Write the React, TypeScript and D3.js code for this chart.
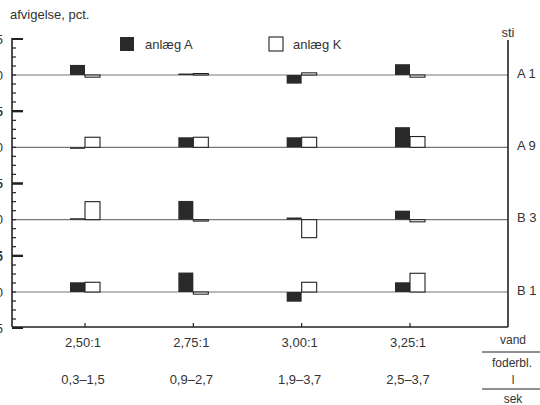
import React, { useEffect, useRef } from 'react';
import * as d3 from 'd3';

// ratio vand : foderblanding, og flow (l/sek)
const categories = ['2,50:1', '2,75:1', '3,00:1', '3,25:1'];
const flowLabels = ['0,3–1,5', '0,9–2,7', '1,9–3,7', '2,5–3,7'];
const rows = ['A 1', 'A 9', 'B 3', 'B 1'];

// afvigelse, pct. per sti (rows) og ratio (columns)
const anlaegA = [
    [1.4, 0.2, -1.2, 1.5],
    [-0.2, 1.4, 1.4, 2.8],
    [0.2, 2.6, 0.3, 1.25],
    [1.35, 2.7, -1.35, 1.35],
];
const anlaegK = [
    [-0.3, 0.2, 0.3, -0.3],
    [1.4, 1.4, 1.4, 1.5],
    [2.5, -0.2, -2.5, -0.3],
    [1.35, -0.3, 1.35, 2.6],
];

const App = () => {
    const chartRef = useRef<SVGSVGElement>(null);

    useEffect(() => {
        const svg = d3.select(chartRef.current);
        svg.selectAll('*').remove();

        const font = '"Liberation Sans", Arial, sans-serif';
        const ink = '#222';
        const textInk = '#333';
        const left = 12;
        const right = 508;
        const bottom = 327;

        // Scales
        const x = d3.scalePoint<string>().domain(categories).range([85, 410]);
        const row = d3.scalePoint<string>().domain(rows).range([75, 292]);
        const v = d3.scaleLinear().domain([-5, 5]).range([36, -36]);
        const barW = 15;

        // Baselines per sti
        svg.selectAll('.base')
            .data(rows)
            .enter()
            .append('line')
            .attr('x1', left)
            .attr('x2', right)
            .attr('y1', d => row(d)!)
            .attr('y2', d => row(d)!)
            .attr('stroke', '#777')
            .attr('stroke-width', 1.2);

        // Left axis with ticks
        const top = row(rows[0])! + v(5);
        svg.append('line')
            .attr('x1', left).attr('x2', left)
            .attr('y1', top - 1).attr('y2', bottom)
            .attr('stroke', ink).attr('stroke-width', 1.6);

        const tickVals = d3.range(-5, 5.01, 1.25);
        rows.forEach(r => {
            const g = svg.append('g');
            g.selectAll('line')
                .data(tickVals)
                .enter()
                .append('line')
                .attr('x1', left)
                .attr('x2', d => (Math.abs(d) === 5 ? left + 11 : left + 4))
                .attr('y1', d => row(r)! + v(d))
                .attr('y2', d => row(r)! + v(d))
                .attr('stroke', ink)
                .attr('stroke-width', d => (Math.abs(d) === 5 ? 2 : 1.2));
            // labels are cropped at the left edge in the original scan
            g.selectAll('text')
                .data([5, 0, -5])
                .enter()
                .append('text')
                .attr('x', 3)
                .attr('y', d => row(r)! + v(d))
                .attr('dy', '0.35em')
                .attr('text-anchor', 'end')
                .attr('font-family', font)
                .attr('font-size', 13)
                .attr('fill', textInk)
                .text(d => (d === 0 ? '0' : '5'));
        });

        // Right axis
        svg.append('line')
            .attr('x1', right).attr('x2', right)
            .attr('y1', 40).attr('y2', bottom)
            .attr('stroke', ink).attr('stroke-width', 1.6);

        // Bottom axis
        svg.append('line')
            .attr('x1', left).attr('x2', right)
            .attr('y1', bottom).attr('y2', bottom)
            .attr('stroke', ink).attr('stroke-width', 1.6);
        svg.selectAll('.xtick')
            .data(categories)
            .enter()
            .append('line')
            .attr('x1', d => x(d)!).attr('x2', d => x(d)!)
            .attr('y1', bottom).attr('y2', bottom - 4)
            .attr('stroke', ink).attr('stroke-width', 1.2);

        // Bars
        rows.forEach((r, ri) => {
            const y0 = row(r)!;
            categories.forEach((c, ci) => {
                const a = anlaegA[ri][ci];
                const k = anlaegK[ri][ci];
                svg.append('rect')
                    .attr('x', x(c)! - barW)
                    .attr('y', y0 + Math.min(v(a), 0))
                    .attr('width', barW)
                    .attr('height', Math.max(Math.abs(v(a)), 1.5))
                    .attr('fill', '#2a2a2a');
                svg.append('rect')
                    .attr('x', x(c)!)
                    .attr('y', y0 + Math.min(v(k), 0))
                    .attr('width', barW)
                    .attr('height', Math.abs(v(k)))
                    .attr('fill', '#fff')
                    .attr('stroke', ink)
                    .attr('stroke-width', 1.1);
            });
        });

        // Row labels
        svg.selectAll('.rowlab')
            .data(rows)
            .enter()
            .append('text')
            .attr('x', 517)
            .attr('y', d => row(d)! - 2)
            .attr('dy', '0.35em')
            .attr('font-family', font)
            .attr('font-size', 13)
            .attr('fill', textInk)
            .text(d => d);

        const text = (tx: number, ty: number, s: string, anchor = 'middle', size = 13) =>
            svg.append('text')
                .attr('x', tx).attr('y', ty)
                .attr('text-anchor', anchor)
                .attr('font-family', font)
                .attr('font-size', size)
                .attr('fill', textInk)
                .text(s);

        text(10, 19, 'afvigelse, pct.', 'start');
        text(508, 37, 'sti');

        // Legend
        svg.append('rect').attr('x', 120).attr('y', 37).attr('width', 14).attr('height', 14).attr('fill', '#2a2a2a');
        text(145, 49, 'anlæg A', 'start');
        svg.append('rect').attr('x', 269).attr('y', 37).attr('width', 14).attr('height', 14)
            .attr('fill', '#fff').attr('stroke', ink).attr('stroke-width', 1.1);
        text(293, 49, 'anlæg K', 'start');

        // Category labels
        svg.selectAll('.cat')
            .data(categories)
            .enter()
            .append('text')
            .attr('x', d => x(d)! - 2)
            .attr('y', 347)
            .attr('text-anchor', 'middle')
            .attr('font-family', font)
            .attr('font-size', 13)
            .attr('fill', textInk)
            .text(d => d);
        svg.selectAll('.flow')
            .data(flowLabels)
            .enter()
            .append('text')
            .attr('x', (d, i) => x(categories[i])! - 2)
            .attr('y', 384)
            .attr('text-anchor', 'middle')
            .attr('font-family', font)
            .attr('font-size', 13)
            .attr('fill', textInk)
            .text(d => d);

        // Units as fractions
        text(513, 344, 'vand', 'middle', 12);
        svg.append('line').attr('x1', 482).attr('x2', 540).attr('y1', 352).attr('y2', 352)
            .attr('stroke', ink).attr('stroke-width', 1);
        text(512, 367, 'foderbl.', 'middle', 12);
        text(513, 384, 'l', 'middle', 12);
        svg.append('line').attr('x1', 482).attr('x2', 540).attr('y1', 389).attr('y2', 389)
            .attr('stroke', ink).attr('stroke-width', 1);
        text(513, 403, 'sek', 'middle', 12);
    }, []);

    return (
        <svg
            ref={chartRef}
            width={540}
            height={405}
            style={{ position: 'absolute', left: 0, top: 0, background: '#fff' }}
        />
    );
};

export default App;
